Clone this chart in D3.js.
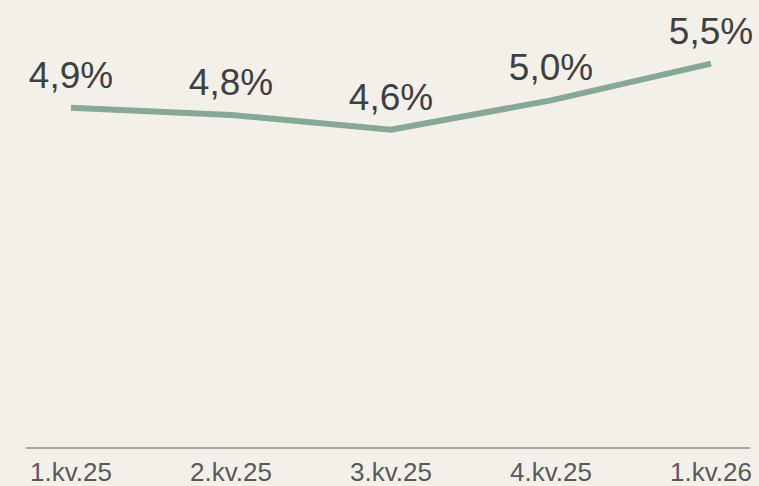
<!DOCTYPE html>
<html>
<head>
<meta charset="utf-8">
<script src="https://cdn.jsdelivr.net/npm/d3@7"></script>
<style>
  body { margin: 0; background: #f3f0ea; }
  svg { display: block; font-family: "Liberation Sans", Arial, sans-serif; }
</style>
</head>
<body>
<svg id="chart" width="759" height="486"></svg>
<script>
// quarters and the rate for each one
const quarters = ["1.kv.25", "2.kv.25", "3.kv.25", "4.kv.25", "1.kv.26"];
const rates = [4.9, 4.8, 4.6, 5.0, 5.5];
const rateLabels = ["4,9%", "4,8%", "4,6%", "5,0%", "5,5%"];

const svg = d3.select("#chart");
const data = quarters.map((q, i) => ({ q: q, v: rates[i], label: rateLabels[i] }));

// x goes from one band centre to the next, 160px apart
const x = d3.scaleBand().domain(quarters).range([-9, 791]);
// the value scale sits a bit below the drawn axis line
const y = d3.scaleLinear().domain([0, 6]).range([467, 27]);

const cx = d => x(d.q) + x.bandwidth() / 2;

// bottom axis line
svg.append("line")
  .attr("x1", 26).attr("x2", 750)
  .attr("y1", 448).attr("y2", 448)
  .attr("stroke", "#a6a6a6")
  .attr("stroke-width", 2);

// tick labels
svg.selectAll(".tick-label")
  .data(quarters)
  .enter().append("text")
  .attr("class", "tick-label")
  .attr("x", d => x(d) + x.bandwidth() / 2)
  .attr("y", 481)
  .attr("text-anchor", "middle")
  .attr("font-size", 26)
  .attr("fill", "#595959")
  .text(d => d);

const line = d3.line()
  .x(cx)
  .y(d => y(d.v));

svg.append("path")
  .datum(data)
  .attr("fill", "none")
  .attr("stroke", "#87a797")
  .attr("stroke-width", 6)
  .attr("d", line);

// value labels above each point
svg.selectAll(".value-label")
  .data(data)
  .enter().append("text")
  .attr("class", "value-label")
  .attr("x", cx)
  .attr("y", d => y(d.v) - 20)
  .attr("text-anchor", "middle")
  .attr("font-size", 37)
  .attr("fill", "#404040")
  .text(d => d.label);
</script>
</body>
</html>
